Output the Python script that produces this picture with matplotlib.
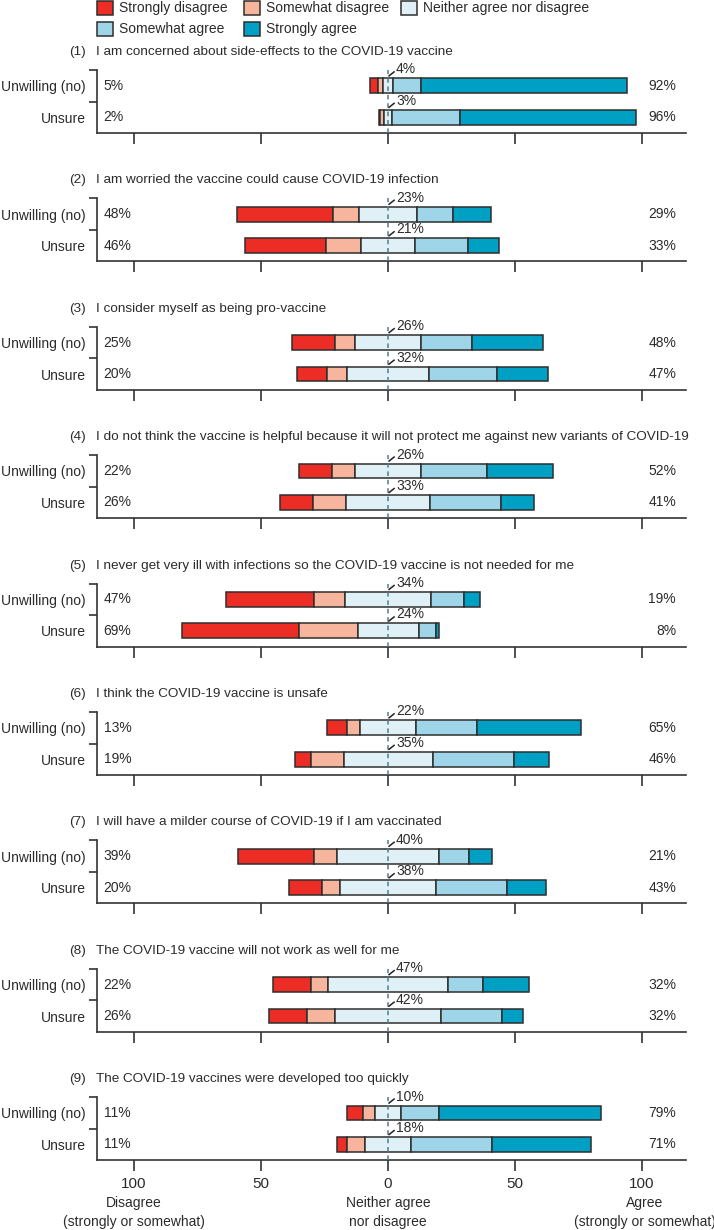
import matplotlib
matplotlib.use('Agg')
import matplotlib.pyplot as plt
from matplotlib import font_manager
from matplotlib.patches import Rectangle
import matplotlib.transforms as mtransforms
import numpy as np

names = {f.name for f in font_manager.fontManager.ttflist}
FONT = 'Liberation Sans Narrow' if 'Liberation Sans Narrow' in names else 'Liberation Sans'
plt.rcParams['font.family'] = [FONT, 'DejaVu Sans']

# ---------------- data ----------------
statements = [
    "I am concerned about side-effects to the COVID-19 vaccine",
    "I am worried the vaccine could cause COVID-19 infection",
    "I consider myself as being pro-vaccine",
    "I do not think the vaccine is helpful because it will not protect me against new variants of COVID-19",
    "I never get very ill with infections so the COVID-19 vaccine is not needed for me",
    "I think the COVID-19 vaccine is unsafe",
    "I will have a milder course of COVID-19 if I am vaccinated",
    "The COVID-19 vaccine will not work as well for me",
    "The COVID-19 vaccines were developed too quickly",
]
groups = ["Unwilling (no)", "Unsure"]
categories = ["Strongly disagree", "Somewhat disagree", "Neither agree nor disagree",
              "Somewhat agree", "Strongly agree"]

strongly_disagree = [[3, 0.5], [38, 32], [17, 12], [13, 13], [35, 46], [8, 6], [30, 13], [15, 15], [6, 4]]
somewhat_disagree = [[2, 1.5], [10, 14], [8, 8], [9, 13], [12, 23], [5, 13], [9, 7], [7, 11], [5, 7]]
neither = [[4, 3], [23, 21], [26, 32], [26, 33], [34, 24], [22, 35], [40, 38], [47, 42], [10, 18]]
somewhat_agree = [[11, 27], [14, 21], [20, 27], [26, 28], [13, 7], [24, 32], [12, 28], [14, 24], [15, 32]]
strongly_agree = [[81, 69], [15, 12], [28, 20], [26, 13], [6, 1], [41, 14], [9, 15], [18, 8], [64, 39]]

disagree_labels = [[5, 2], [48, 46], [25, 20], [22, 26], [47, 69], [13, 19], [39, 20], [22, 26], [11, 11]]
neither_labels = [[4, 3], [23, 21], [26, 32], [26, 33], [34, 24], [22, 35], [40, 38], [47, 42], [10, 18]]
agree_labels = [[92, 96], [29, 33], [48, 47], [52, 41], [19, 8], [65, 46], [21, 43], [32, 32], [79, 71]]

xticks = [-100, -50, 0, 50, 100]
xtick_labels = ["100", "50", "0", "50", "100"]

# ---------------- style ----------------
colors = ["#EC2D26", "#F8B59D", "#DFF0F7", "#9ED5E8", "#00A0C4"]
EDGE = "#2e2e2e"
TXT = "#2b2b2b"
FS = 10
TITLE_FS = 9.7

W, H = 714, 1230
fig = plt.figure(figsize=(W / 100, H / 100), dpi=100)


def fx(x):
    return x / W


def fy(y):
    return 1 - y / H


AX_L, AX_R = 97, 686
PANEL_H = 63
BASE0 = 133
PITCH = 128.4
BAR_H = 0.47

axes = []
for k in range(len(statements)):
    bottom = BASE0 + PITCH * k
    top = bottom - PANEL_H
    ax = fig.add_axes([fx(AX_L), fy(bottom), fx(AX_R) - fx(AX_L), (bottom - top) / H])
    axes.append(ax)
    segs = np.array([strongly_disagree[k], somewhat_disagree[k], neither[k],
                     somewhat_agree[k], strongly_agree[k]], dtype=float)
    ypos = np.arange(len(groups))
    left = -(segs[0] + segs[1] + segs[2] / 2.0)
    for c in range(5):
        ax.barh(ypos, segs[c], left=left, height=BAR_H, color=colors[c],
                edgecolor=EDGE, linewidth=1.1, zorder=3)
        left = left + segs[c]
    ax.axvline(0, color="#557c8c", lw=1.1, ls=(0, (3, 2.5)), zorder=4)
    ax.set_xlim(-114.6, 117.3)
    ax.set_ylim(len(groups) - 0.5, -0.5)
    for s in ["top", "right"]:
        ax.spines[s].set_visible(False)
    for s in ["left", "bottom"]:
        ax.spines[s].set_linewidth(1.2)
        ax.spines[s].set_color("#333333")
    ax.set_xticks(xticks)
    ax.tick_params(axis="x", direction="out", length=8, width=1.2, color="#333333",
                   labelsize=FS + 1, labelcolor=TXT, pad=4)
    if k == len(statements) - 1:
        ax.set_xticklabels(xtick_labels)
    else:
        ax.set_xticklabels([])
    ax.set_yticks(ypos)
    ax.set_yticklabels(groups, fontsize=FS, color=TXT)
    ax.tick_params(axis="y", which="major", length=0, pad=8)
    ax.set_yticks([-0.5, 0.5], minor=True)
    ax.tick_params(axis="y", which="minor", direction="out", length=6, width=1.2, color="#333333")

    for g in range(len(groups)):
        ax.text(-112, g, f"{disagree_labels[k][g]}%", ha="left", va="center",
                fontsize=FS, color=TXT)
        ax.text(113.4, g, f"{agree_labels[k][g]}%", ha="right", va="center",
                fontsize=FS, color=TXT)
        ytop = g - BAR_H / 2
        base = ax.transData.transform((0, ytop))
        p0 = ax.transData.inverted().transform(base + np.array([1.0, 2.5]))
        p1 = ax.transData.inverted().transform(base + np.array([6.0, 6.5]))
        ax.plot([p0[0], p1[0]], [p0[1], p1[1]], color="#222222", lw=1.1, zorder=5,
                clip_on=False)
        ax.annotate(f"{neither_labels[k][g]}%", xy=(0, ytop), xytext=(8, 2.0),
                    textcoords="offset pixels", ha="left", va="bottom",
                    fontsize=FS, color=TXT, annotation_clip=False)

    title_y = bottom - 81
    fig.text(fx(86), fy(title_y), f"({k + 1})", ha="right", va="center",
             fontsize=TITLE_FS, color=TXT)
    fig.text(fx(96), fy(title_y), statements[k], ha="left", va="center",
             fontsize=TITLE_FS, color=TXT)

# bottom axis annotations
last = axes[-1]
btr = mtransforms.blended_transform_factory(last.transData, fig.transFigure)
for xv, l1, l2 in [(-100, "Disagree", "(strongly or somewhat)"),
                   (0, "Neither agree", "nor disagree"),
                   (101, "Agree", "(strongly or somewhat)")]:
    last.text(xv, fy(1203), l1, transform=btr, ha="center", va="center",
              fontsize=FS, color=TXT)
    last.text(xv, fy(1222), l2, transform=btr, ha="center", va="center",
              fontsize=FS, color=TXT)

# legend: two rows (3 + 2 items)
leg_cols_x = [97, 244, 401]
leg_rows_y = [8, 29]
leg_pos = [(0, 0), (0, 1), (0, 2), (1, 0), (1, 1)]
for i, (r, c) in enumerate(leg_pos):
    x0 = leg_cols_x[c]
    y0 = leg_rows_y[r]
    fig.patches.append(Rectangle((fx(x0), fy(y0 + 7)), 16 / W, 14 / H,
                                 transform=fig.transFigure, facecolor=colors[i],
                                 edgecolor=EDGE, linewidth=1.1))
    fig.text(fx(x0 + 22), fy(y0), categories[i], ha="left", va="center",
             fontsize=FS, color=TXT)

fig.savefig("out.png", dpi=100)
